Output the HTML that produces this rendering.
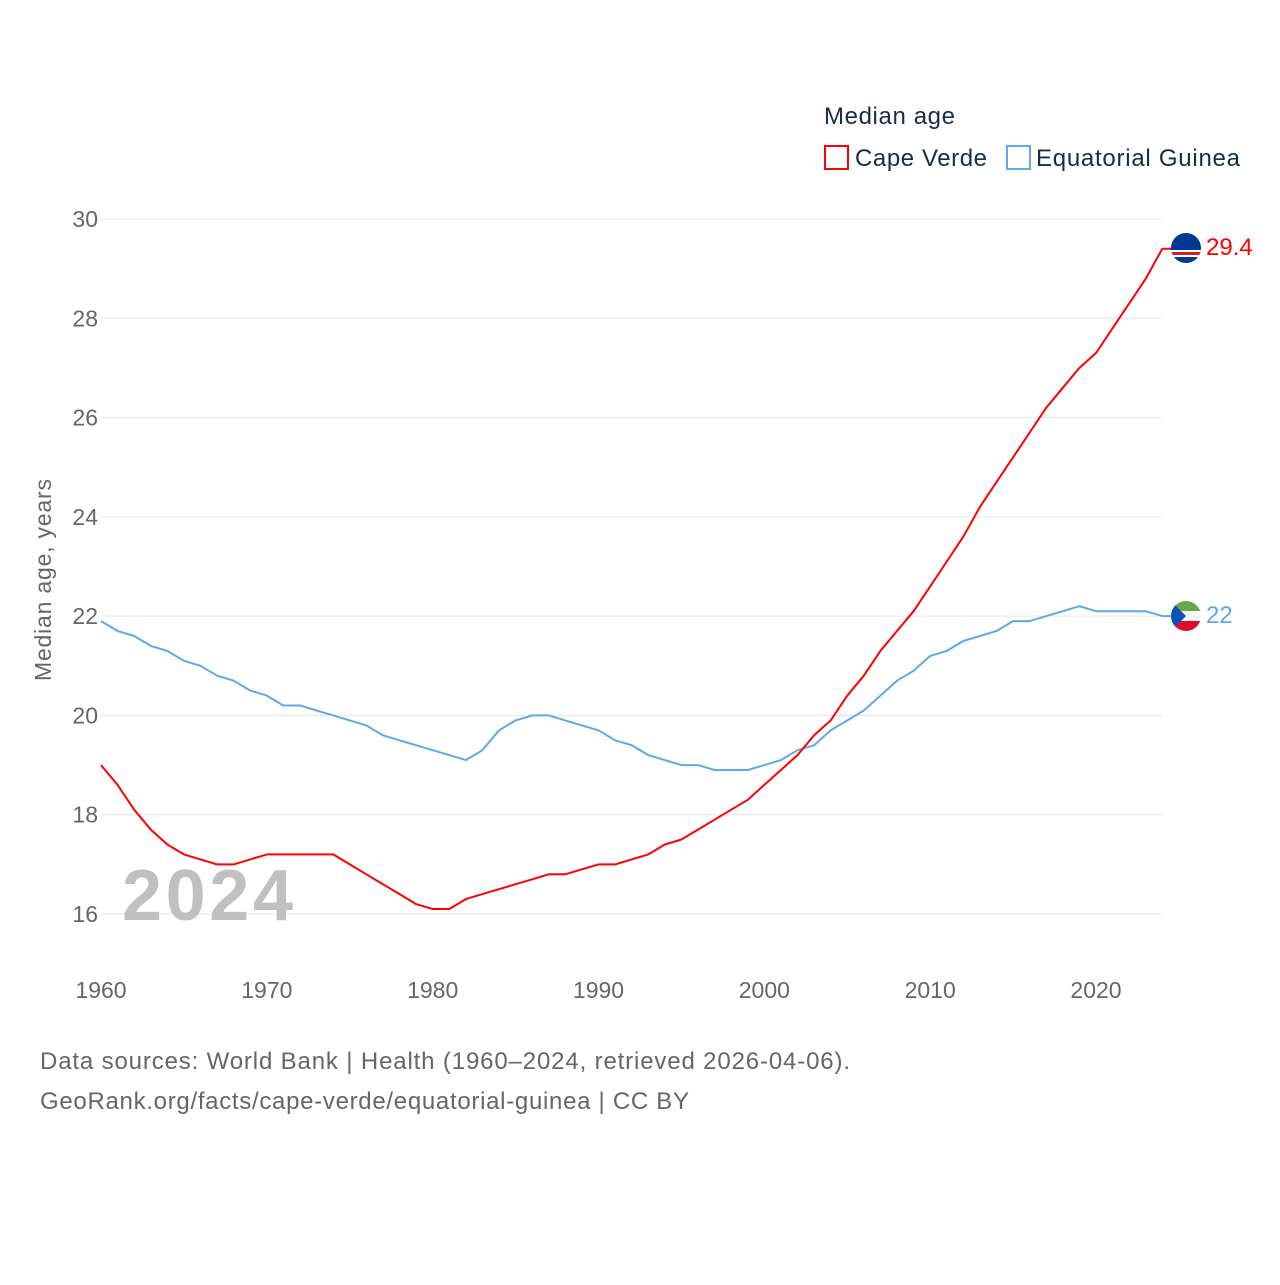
<!DOCTYPE html>
<html><head><meta charset="utf-8"><style>
body{margin:0;background:#fff;font-family:"Liberation Sans",sans-serif}
svg text{font-family:"Liberation Sans",sans-serif}
</style></head><body>
<svg id="chart" width="1280" height="1280" viewBox="0 0 1280 1280">
<defs>
<clipPath id="c1"><circle cx="1186" cy="248" r="15"/></clipPath>
<clipPath id="c2"><circle cx="1186" cy="616" r="15"/></clipPath>
</defs>
<g>
<text x="824" y="124" font-size="24" fill="#1a2a4a" textLength="131">Median age</text>
<g>
<rect x="825" y="146" width="23" height="23" fill="none" stroke="#ff0000" stroke-width="2"/>
<text x="855" y="166" font-size="24" fill="#1a2a4a" textLength="132">Cape Verde</text></g>
<g>
<rect x="1007" y="146" width="23" height="23" fill="none" stroke="#5ea8ee" stroke-width="2"/>
<text x="1036" y="166" font-size="24" fill="#1a2a4a" textLength="204">Equatorial Guinea</text></g>
</g>
<g id="grid"></g>
<g id="yticks"></g>
<g id="xticks"></g>
<text x="0" y="0" transform="translate(51,580) rotate(-90)" text-anchor="middle" font-size="23" fill="#666" textLength="202">Median age, years</text>
<text x="122" y="920" font-size="72" font-weight="bold" fill="#c0c0c0" textLength="171">2024</text>
<g id="series"></g>
<g clip-path="url(#c1)">
<rect x="1170" y="232" width="32" height="32" fill="#003893"/>
<rect x="1170" y="250" width="32" height="7" fill="#fff"/>
<rect x="1170" y="252" width="32" height="3" fill="#cf2027"/>
</g>
<g clip-path="url(#c2)">
<rect x="1170" y="600" width="32" height="11" fill="#6ba54a"/>
<rect x="1170" y="611" width="32" height="10" fill="#f4f4f4"/>
<rect x="1170" y="621" width="32" height="11" fill="#e20b2c"/>
<polygon points="1170,600 1186,616 1170,632" fill="#0c53b8"/>
</g>
<text x="1206" y="255" font-size="24" fill="#ff0000">29.4</text>
<text x="1206" y="623" font-size="24" fill="#5ea8ee">22</text>
<text x="40" y="1069" font-size="24" fill="#666" textLength="810">Data sources: World Bank | Health (1960–2024, retrieved 2026-04-06).</text>
<text x="40" y="1109" font-size="24" fill="#666" textLength="649">GeoRank.org/facts/cape-verde/equatorial-guinea | CC BY</text>
</svg>
<script>
const years=[];for(let y=1960;y<=2024;y++)years.push(y);
const capeVerde=[19.0,18.6,18.1,17.7,17.4,17.2,17.1,17.0,17.0,17.1,17.2,17.2,17.2,17.2,17.2,17.0,16.8,16.6,16.4,16.2,16.1,16.1,16.3,16.4,16.5,16.6,16.7,16.8,16.8,16.9,17.0,17.0,17.1,17.2,17.4,17.5,17.7,17.9,18.1,18.3,18.6,18.9,19.2,19.6,19.9,20.4,20.8,21.3,21.7,22.1,22.6,23.1,23.6,24.2,24.7,25.2,25.7,26.2,26.6,27.0,27.3,27.8,28.3,28.8,29.4];
const eqGuinea=[21.9,21.7,21.6,21.4,21.3,21.1,21.0,20.8,20.7,20.5,20.4,20.2,20.2,20.1,20.0,19.9,19.8,19.6,19.5,19.4,19.3,19.2,19.1,19.3,19.7,19.9,20.0,20.0,19.9,19.8,19.7,19.5,19.4,19.2,19.1,19.0,19.0,18.9,18.9,18.9,19.0,19.1,19.3,19.4,19.7,19.9,20.1,20.4,20.7,20.9,21.2,21.3,21.5,21.6,21.7,21.9,21.9,22.0,22.1,22.2,22.1,22.1,22.1,22.1,22.0];
const yTicks=[16,18,20,22,24,26,28,30];
const xTicks=[1960,1970,1980,1990,2000,2010,2020];
const NS="http://www.w3.org/2000/svg";
const X=y=>101+(y-1960)*(1096-101)/60;
const Y=v=>914-(v-16)*(914-219)/14;
function mk(t,a,p){const e=document.createElementNS(NS,t);for(const k in a)e.setAttribute(k,a[k]);p.appendChild(e);return e;}
const grid=document.getElementById('grid'),yt=document.getElementById('yticks'),xt=document.getElementById('xticks'),ser=document.getElementById('series');
yTicks.forEach(v=>{
 const l=mk('line',{x1:101,x2:1162,y1:Y(v),y2:Y(v),stroke:'#e6e6e6','stroke-width':1},grid);
 
 
 const t=mk('text',{x:98,y:Y(v)+8,'text-anchor':'end','font-size':23,fill:'#666'},yt);
 t.textContent=v;
 
 
});
xTicks.forEach(v=>{
 const t=mk('text',{x:X(v),y:998,'text-anchor':'middle','font-size':23,fill:'#666'},xt);
 t.textContent=v;
 
 
});
function line(vals,color,name){
 let d=vals.map((v,i)=>(i?'L':'M')+X(years[i]).toFixed(1)+','+Y(v).toFixed(1)).join('');
 d+='L1172,'+Y(vals[vals.length-1]).toFixed(1);
 const p=mk('path',{d:d,fill:'none',stroke:color,'stroke-width':2,'stroke-linejoin':'round'},ser);
 
 
}
line(eqGuinea,'#5ea8ee','line-equatorial-guinea');
line(capeVerde,'#ff0000','line-cape-verde');
</script>
</body></html>
